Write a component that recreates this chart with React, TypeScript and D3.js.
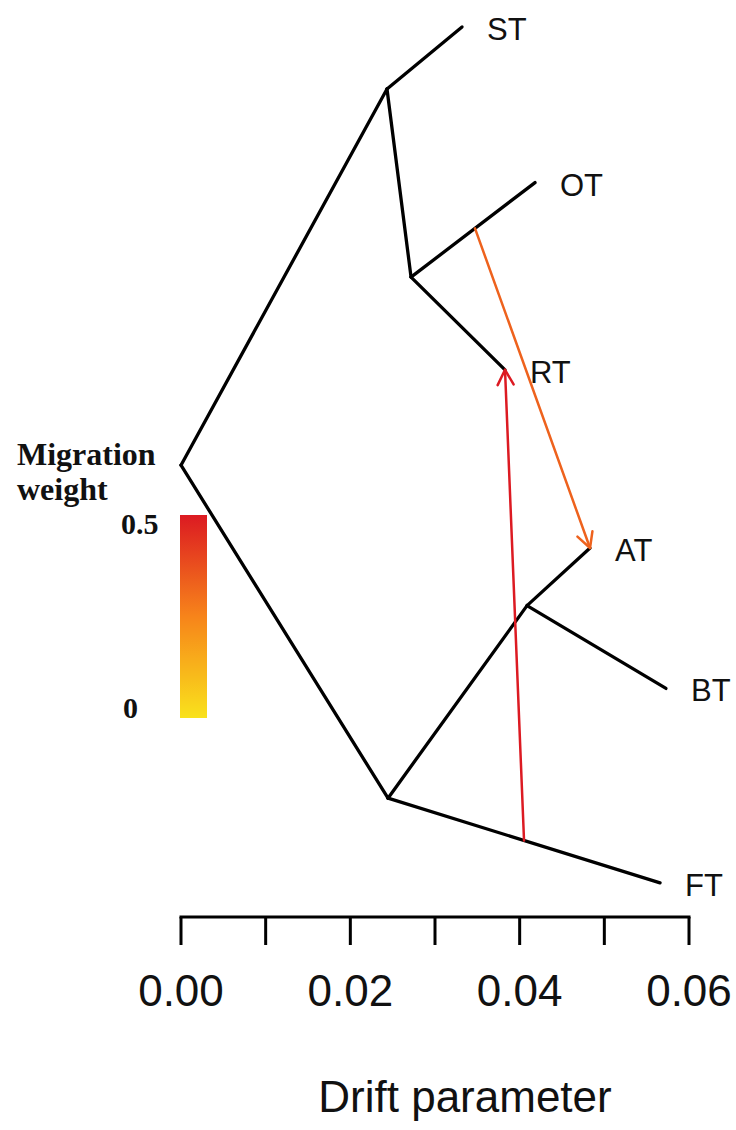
import React from "react";
import * as d3 from "d3";

// Population tree (TreeMix style): drift on x, vertical layout position on y
const nodeIds = ["root", "n1", "n2", "n3", "n4", "ST", "OT", "RT", "AT", "BT", "FT"];
const nodeDrift = [0, 0.02433, 0.02717, 0.02445, 0.04087, 0.03319, 0.04181, 0.03827, 0.04831, 0.05728, 0.05658];
const nodeY = [0.502, 0.92, 0.711, 0.132, 0.346, 0.989, 0.816, 0.608, 0.41, 0.254, 0.038];

const edgeFrom = ["root", "n1", "n1", "n2", "n2", "root", "n3", "n3", "n4", "n4"];
const edgeTo = ["n1", "ST", "n2", "OT", "RT", "n3", "n4", "FT", "AT", "BT"];

const tipLabels = ["ST", "OT", "RT", "AT", "BT", "FT"];

// Migration edges: source branch (from→to) with position along it, target node, weight
const migFromA = ["n2", "n3"];
const migFromB = ["OT", "FT"];
const migFrac = [0.516, 0.5];
const migTo = ["AT", "RT"];
const migWeight = [0.33, 0.5];

const axisTicks = [0, 0.01, 0.02, 0.03, 0.04, 0.05, 0.06];
const axisLabels = [0, 0.02, 0.04, 0.06];
const legendTicks = [0, 0.5];

const W = 736;
const H = 1130;

export default function App() {
  const x = d3.scaleLinear().domain([0, 0.06]).range([181, 689]);
  const y = d3.scaleLinear().domain([0, 1]).range([917, 17]);

  const pos: Record<string, [number, number]> = {};
  nodeIds.forEach((id, i) => {
    pos[id] = [x(nodeDrift[i]), y(nodeY[i])];
  });

  const color = d3
    .scaleLinear<string>()
    .domain([0, 0.25, 0.5])
    .range(["#f9e21c", "#f7841a", "#dc1a22"]);

  const legendY = d3.scaleLinear().domain([0, 0.5]).range([718, 515]);

  const axisY = 917;
  const fmt = d3.format(".2f");

  const arrowHead = (x1: number, y1: number, x2: number, y2: number) => {
    const ang = Math.atan2(y2 - y1, x2 - x1);
    const len = 17;
    const spread = (28 * Math.PI) / 180;
    const a1 = ang + Math.PI - spread;
    const a2 = ang + Math.PI + spread;
    return `M${x2 + len * Math.cos(a1)},${y2 + len * Math.sin(a1)}L${x2},${y2}L${x2 + len * Math.cos(a2)},${y2 + len * Math.sin(a2)}`;
  };

  return (
    <svg
      width={W}
      height={H}
      style={{ position: "absolute", left: 0, top: 0, background: "#fff" }}
    >
      <defs>
        <linearGradient id="mw" x1="0" y1="1" x2="0" y2="0">
          {d3.range(0, 1.0001, 0.1).map((t) => (
            <stop key={t} offset={t} stopColor={color(t * 0.5)} />
          ))}
        </linearGradient>
      </defs>

      {/* tree branches */}
      <g stroke="#000" strokeWidth={3.3} strokeLinecap="round">
        {edgeFrom.map((f, i) => {
          const [x1, y1] = pos[f];
          const [x2, y2] = pos[edgeTo[i]];
          return <line key={i} x1={x1} y1={y1} x2={x2} y2={y2} />;
        })}
      </g>

      {/* migration arrows */}
      <g fill="none" strokeWidth={2.5} strokeLinecap="round" strokeLinejoin="round">
        {migFromA.map((a, i) => {
          const [ax, ay] = pos[a];
          const [bx, by] = pos[migFromB[i]];
          const sx = ax + (bx - ax) * migFrac[i];
          const sy = ay + (by - ay) * migFrac[i];
          const [tx, ty] = pos[migTo[i]];
          const c = color(migWeight[i]);
          return (
            <g key={i} stroke={c}>
              <line x1={sx} y1={sy} x2={tx} y2={ty} />
              <path d={arrowHead(sx, sy, tx, ty)} />
            </g>
          );
        })}
      </g>

      {/* tip labels */}
      <g fontFamily="Liberation Sans, Arial, sans-serif" fontSize={31} fill="#111">
        {tipLabels.map((t) => (
          <text key={t} x={pos[t][0] + 25} y={pos[t][1] + 13}>
            {t}
          </text>
        ))}
      </g>

      {/* migration weight legend */}
      <g fontFamily="Liberation Serif, Times New Roman, serif" fontWeight="bold" fill="#111">
        <text x={17} y={465} fontSize={32}>Migration</text>
        <text x={17} y={500} fontSize={32}>weight</text>
        <rect x={180} y={legendY(0.5)} width={27} height={legendY(0) - legendY(0.5)} fill="url(#mw)" />
        {legendTicks.map((v) => (
          <text key={v} x={v === 0 ? 123 : 121} y={legendY(v) + (v === 0 ? 0 : 19)} fontSize={30}>
            {v === 0 ? "0" : String(v)}
          </text>
        ))}
      </g>

      {/* x axis */}
      <g stroke="#000" strokeWidth={3}>
        <line x1={x(0)} x2={x(0.06)} y1={axisY} y2={axisY} strokeLinecap="square" />
        {axisTicks.map((t) => (
          <line key={t} x1={x(t)} x2={x(t)} y1={axisY} y2={axisY + 28} />
        ))}
      </g>
      <g fontFamily="Liberation Sans, Arial, sans-serif" fontSize={44} fill="#111" textAnchor="middle">
        {axisLabels.map((t) => (
          <text key={t} x={x(t)} y={1006}>
            {fmt(t)}
          </text>
        ))}
        <text x={465} y={1112} fontSize={44}>
          Drift parameter
        </text>
      </g>
    </svg>
  );
}
